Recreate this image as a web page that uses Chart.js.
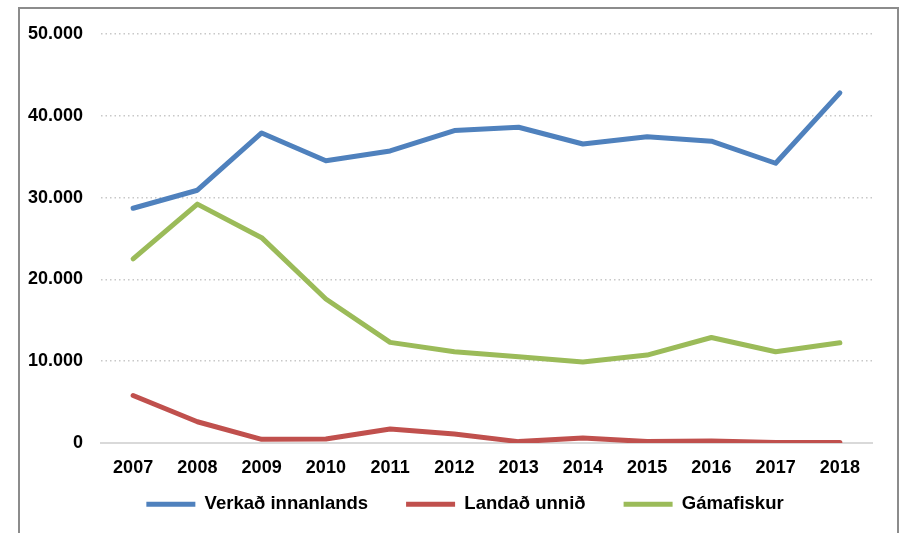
<!DOCTYPE html>
<html>
<head>
<meta charset="utf-8">
<script src="https://cdn.jsdelivr.net/npm/chart.js@4/dist/chart.umd.min.js"></script>
<style>
  html, body { margin: 0; padding: 0; background: #fff; }
  #wrap { position: relative; width: 901px; height: 533px; overflow: hidden; }
  #frame {
    position: absolute; left: 18px; top: 7px; width: 881px; height: 600px;
    box-sizing: border-box; border: 2px solid #8c8c8c; pointer-events: none;
  }
  canvas { position: absolute; left: 0; top: 0; }
</style>
</head>
<body>
<div id="wrap">
  <canvas id="chart" width="901" height="533"></canvas>
  <div id="frame"></div>
</div>
<script>
  const years = ["2007", "2008", "2009", "2010", "2011", "2012", "2013", "2014", "2015", "2016", "2017", "2018"];
  const verkad = [28700, 30900, 37900, 34500, 35700, 38200, 38600, 36550, 37450, 36900, 34200, 42800];
  const landad = [5800, 2600, 450, 500, 1700, 1100, 170, 620, 170, 250, 60, 50];
  const gamafiskur = [22500, 29200, 25100, 17600, 12300, 11150, 10550, 9900, 10750, 12900, 11150, 12250];
  const yTicks = [0, 10000, 20000, 30000, 40000, 50000];

  const FONT = "'Liberation Sans', Arial, sans-serif";
  const fmtThousands = (v) => v === 0 ? "0" : String(v).replace(/\B(?=(\d{3})+(?!\d))/g, ".");

  function series(label, data, color) {
    return {
      label, data,
      borderColor: color, backgroundColor: color,
      borderWidth: 5, borderCapStyle: "round", borderJoinStyle: "round",
      pointRadius: 0, pointHoverRadius: 0, pointStyle: "line",
      tension: 0, fill: false,
    };
  }

  // nudge the legend row up under the year labels and a bit right
  const legendNudge = {
    id: "legendNudge",
    afterLayout(chart) {
      const lg = chart.legend;
      if (!lg) return;
      lg.left += 15; lg.right += 15;
      lg.top -= 20; lg.bottom -= 20;
    },
  };

  new Chart(document.getElementById("chart"), {
    type: "line",
    data: {
      labels: years,
      datasets: [
        series("Verkað innanlands", verkad, "#4f81bd"),
        series("Landað unnið", landad, "#c0504d"),
        series("Gámafiskur", gamafiskur, "#9bbb59"),
      ],
    },
    plugins: [legendNudge],
    options: {
      responsive: false, animation: false,
      layout: { padding: { left: 28, right: 29, top: 34, bottom: -10.5 } },
      scales: {
        x: {
          offset: true,
          grid: { display: false, drawTicks: false },
          border: { display: true, color: "#d9d9d9", width: 2 },
          ticks: { color: "#000", padding: 14, font: { family: FONT, size: 18, weight: "bold" } },
          afterFit: (s) => { s.height = 34; },
        },
        y: {
          min: 0, max: 50000,
          afterBuildTicks: (s) => { s.ticks = yTicks.map((v) => ({ value: v })); },
          grid: {
            drawTicks: false, lineWidth: 1.5,
            color: (c) => (c.tick && c.tick.value === 0 ? "rgba(0,0,0,0)" : "#c8c8c8"),
          },
          border: { display: false, dash: [1.5, 3] },
          ticks: {
            color: "#000", padding: 18,
            font: { family: FONT, size: 18, weight: "bold" },
            callback: (v) => fmtThousands(v),
          },
          afterFit: (s) => { s.width = 73; },
        },
      },
      plugins: {
        legend: {
          position: "bottom",
          labels: {
            usePointStyle: true, pointStyleWidth: 49, padding: 38,
            color: "#000", font: { family: FONT, size: 18.5, weight: "bold" },
          },
        },
        tooltip: { enabled: false },
      },
    },
  });
</script>
</body>
</html>
